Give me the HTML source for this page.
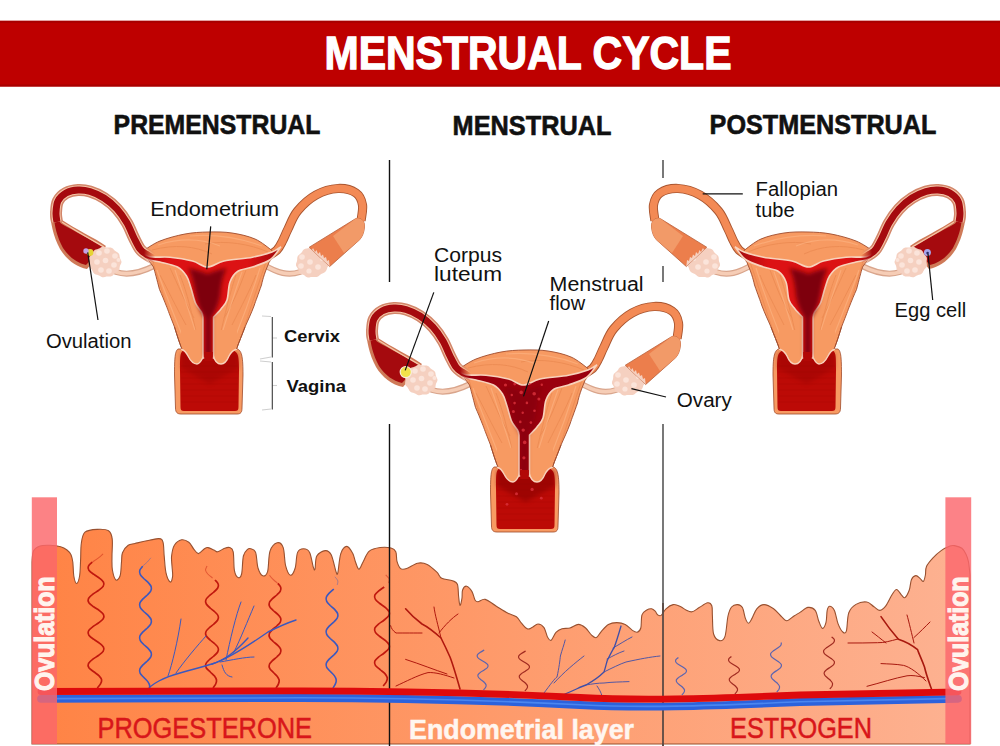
<!DOCTYPE html>
<html><head><meta charset="utf-8"><title>Menstrual Cycle</title>
<style>html,body{margin:0;padding:0;background:#fff;}svg{display:block;}</style>
</head><body>
<svg width="1000" height="746" viewBox="0 0 1000 746">
<defs>
  <linearGradient id="tg" x1="32" y1="0" x2="970" y2="0" gradientUnits="userSpaceOnUse">
    <stop offset="0" stop-color="#FF8344"/>
    <stop offset="1" stop-color="#FDB292"/>
  </linearGradient>
  <linearGradient id="cavgr" x1="140" y1="0" x2="285" y2="0" gradientUnits="userSpaceOnUse">
    <stop offset="0" stop-color="#A80A0E"/><stop offset="0.2" stop-color="#DC1214"/><stop offset="0.74" stop-color="#DC1214"/><stop offset="0.97" stop-color="#A00A0C"/>
  </linearGradient>
  <linearGradient id="tmg" x1="144" y1="0" x2="155" y2="0" gradientUnits="userSpaceOnUse">
    <stop offset="0" stop-color="#fff"/><stop offset="1" stop-color="#000"/>
  </linearGradient>
  <mask id="tubemask" maskUnits="userSpaceOnUse" x="0" y="0" width="400" height="450"><rect x="0" y="0" width="400" height="450" fill="url(#tmg)"/></mask>
  <clipPath id="bodyclip"><path d="M143.0,251.0 C145.8,249.3 153.0,243.8 160.0,241.0 C167.0,238.2 177.0,235.5 185.0,234.0 C193.0,232.5 200.2,232.2 208.0,232.0 C215.8,231.8 224.2,231.8 232.0,233.0 C239.8,234.2 248.3,236.1 255.0,239.0 C261.7,241.9 269.2,248.6 272.0,250.5 C274,255 272,258 269,262.5 C265,272 263,278 261.5,285 C258,295 256,300 254,306 C251,314 248,320 245,327 C242,335 239,342 236.5,349 C233,350 231,352 229,356 C227,361 224,364 221,364 C216,364 214,359 213,355 L204,355 C202,360 200,364 197,364 C193,364 190,360 188,356 C186,352 184,350 182,349 C179,342 177,335 174.5,327 C171,318 169,313 167,307.5 C164,300 162,295 159.5,289.5 C157,280 155,272 153.5,267 C150,262 145,256 143,251 Z"/></clipPath>
  <filter id="blur2" x="-20%" y="-20%" width="140%" height="140%"><feGaussianBlur stdDeviation="2.2"/></filter>
  
<g id="ut">
  <path d="M116,272 C128,276 140,273 154,266" fill="none" stroke="#D9A58C" stroke-width="6" stroke-linecap="round"/>
  <path d="M116,272 C128,276 140,273 154,266" fill="none" stroke="#F6CDB6" stroke-width="3.6" stroke-linecap="round"/>
  <path d="M300,272 C288,276 278,273 264,265" fill="none" stroke="#D9A58C" stroke-width="6" stroke-linecap="round"/>
  <path d="M300,272 C288,276 278,273 264,265" fill="none" stroke="#F6CDB6" stroke-width="3.6" stroke-linecap="round"/>
  <path d="M50,211 C50.5,222 53,236 60,249 C66,259 76,267 87,269 L93,262 L106,246 C95,238 75,229 62,220 Z" fill="#CF7A58"/>
  <path d="M53.5,214 C54.5,226 57,237 63,248 C69,257 77,263 86,265 L103,247 C92,240 74,231 61,223.5 Z" fill="#A50A0E"/>
  <path d="M62,222 C74,230 92,240 104,247" fill="none" stroke="#F7C6A8" stroke-width="1.2"/>
  <path d="M121.5,262.0 L121.2,263.3 L120.6,264.6 L120.0,265.8 L119.7,267.0 L119.5,268.4 L119.2,269.7 L118.5,270.8 L117.3,271.7 L116.1,272.4 L115.0,273.2 L114.1,274.1 L113.1,275.2 L112.0,276.0 L110.6,276.4 L109.1,276.4 L107.7,276.4 L106.4,276.6 L105.0,277.0 L103.6,277.3 L102.1,277.2 L100.8,276.6 L99.6,275.8 L98.4,275.2 L97.1,274.8 L95.7,274.4 L94.4,273.8 L93.4,272.8 L92.8,271.6 L92.2,270.4 L91.5,269.3 L90.5,268.3 L89.6,267.2 L89.1,266.0 L89.1,264.6 L89.3,263.3 L89.5,262.0 L89.3,260.7 L89.1,259.4 L89.1,258.0 L89.6,256.8 L90.5,255.7 L91.5,254.7 L92.2,253.6 L92.8,252.4 L93.4,251.2 L94.4,250.2 L95.7,249.6 L97.1,249.2 L98.4,248.8 L99.6,248.2 L100.8,247.4 L102.1,246.8 L103.6,246.7 L105.0,247.0 L106.4,247.4 L107.7,247.6 L109.1,247.6 L110.6,247.6 L112.0,248.0 L113.1,248.8 L114.1,249.9 L115.0,250.8 L116.1,251.6 L117.3,252.3 L118.5,253.2 L119.2,254.3 L119.5,255.6 L119.7,257.0 L120.0,258.2 L120.6,259.4 L121.2,260.7 Z" fill="#F5D0C0"/>
  <g fill="#FBE4DA">
    <circle cx="99" cy="253" r="2.8"/><circle cx="107" cy="251" r="2.8"/><circle cx="115" cy="256" r="2.8"/>
    <circle cx="97" cy="262" r="2.8"/><circle cx="105.5" cy="260.5" r="2.8"/><circle cx="114" cy="265" r="2.8"/>
    <circle cx="101" cy="270" r="2.8"/><circle cx="109" cy="271" r="2.8"/><circle cx="118.5" cy="260" r="2"/>
  </g>
  <path d="M268.0,256.0 C269.5,255.0 274.6,252.5 277.0,250.0 C279.4,247.5 280.7,244.5 282.5,241.0 C284.3,237.5 285.5,234.0 288.0,229.0 C290.5,224.0 292.8,216.7 297.5,211.0 C302.2,205.3 309.2,198.8 316.0,195.0 C322.8,191.2 331.3,188.8 338.0,188.5 C344.7,188.2 351.9,190.2 356.0,193.0 C360.1,195.8 361.7,200.3 362.5,205.0 C363.3,209.7 361.2,218.3 361.0,221.0" fill="none" stroke="#A85530" stroke-width="9.2"/>
  <path d="M268.0,256.0 C269.5,255.0 274.6,252.5 277.0,250.0 C279.4,247.5 280.7,244.5 282.5,241.0 C284.3,237.5 285.5,234.0 288.0,229.0 C290.5,224.0 292.8,216.7 297.5,211.0 C302.2,205.3 309.2,198.8 316.0,195.0 C322.8,191.2 331.3,188.8 338.0,188.5 C344.7,188.2 351.9,190.2 356.0,193.0 C360.1,195.8 361.7,200.3 362.5,205.0 C363.3,209.7 361.2,218.3 361.0,221.0" fill="none" stroke="#F38A55" stroke-width="7.4"/>
  <path d="M143.0,251.0 C145.8,249.3 153.0,243.8 160.0,241.0 C167.0,238.2 177.0,235.5 185.0,234.0 C193.0,232.5 200.2,232.2 208.0,232.0 C215.8,231.8 224.2,231.8 232.0,233.0 C239.8,234.2 248.3,236.1 255.0,239.0 C261.7,241.9 269.2,248.6 272.0,250.5 C274,255 272,258 269,262.5 C265,272 263,278 261.5,285 C258,295 256,300 254,306 C251,314 248,320 245,327 C242,335 239,342 236.5,349 C233,350 231,352 229,356 C227,361 224,364 221,364 C216,364 214,359 213,355 L204,355 C202,360 200,364 197,364 C193,364 190,360 188,356 C186,352 184,350 182,349 C179,342 177,335 174.5,327 C171,318 169,313 167,307.5 C164,300 162,295 159.5,289.5 C157,280 155,272 153.5,267 C150,262 145,256 143,251 Z" fill="#F79A62" stroke="#9E4A2A" stroke-width="0.9"/>
  <g clip-path="url(#bodyclip)" fill="none">
  <g stroke="#E27E46" stroke-width="1" opacity="0.45">
    <path d="M152,250 C175,244 195,246 212,254"/><path d="M205,244 C225,240 250,244 268,252"/>
    <path d="M160,275 C168,290 175,305 186,325"/><path d="M170,268 C178,285 184,300 194,318"/>
    <path d="M153,262 C160,285 168,310 178,340"/><path d="M180,275 C186,290 190,305 198,340"/>
    <path d="M256,275 C250,290 242,305 232,325"/><path d="M246,270 C240,286 234,302 224,318"/>
    <path d="M266,262 C258,285 250,310 240,340"/><path d="M236,275 C231,290 227,305 219,340"/>
  </g>
  <g stroke="#FFBE90" stroke-width="1.2" opacity="0.45">
    <path d="M158,245 C180,238 200,238 220,246"/><path d="M190,236 C215,234 240,238 262,246"/>
    <path d="M157,270 C164,290 172,310 182,335"/><path d="M175,270 C181,288 187,305 195,330"/>
    <path d="M260,268 C253,290 246,310 236,335"/><path d="M242,272 C236,288 231,305 223,330"/>
  </g>
  </g>
  <path d="M178,349 C175,351 174.5,358 174.5,375 L175.5,408 C175.5,412 177,414 181,414 L237,414 C241,414 242,412 242,408 L243,375 C243,358 242,351 237.5,349 Z" fill="#F79A62" stroke="#9E4A2A" stroke-width="0.8"/>
  <path d="M182.5,351 C180,353 180,358 180,370 L180.5,407 C180.5,410 181.5,411 184,411 L235,411 C237.5,411 238.5,410 238.5,407 L239,370 C239,358 238.5,353 234.5,351 Z" fill="#BC0A06"/>
  <g stroke="#A80806" stroke-width="0.8" opacity="0.5">
    <line x1="181" y1="366" x2="238" y2="366"/><line x1="181" y1="372" x2="238" y2="372"/><line x1="181" y1="378" x2="238" y2="378"/><line x1="181" y1="384" x2="238" y2="384"/>
    <line x1="181" y1="390" x2="238" y2="390"/><line x1="181" y1="396" x2="238" y2="396"/><line x1="181" y1="402" x2="238" y2="402"/>
  </g>
  <path d="M181,352 L239,352 L239,368 L209.5,384 L181,368 Z" fill="#860006" style="opacity:var(--vk)" filter="url(#blur2)"/>
  <path d="M181,349 C184,350 186,352 188,356 C190,360 193,364 197,364 C200,364 202,360 204,355 L213,355 C214,359 216,364 221,364 C224,364 227,361 229,356 C231,352 233,350 237,349 L237,330 L181,330 Z" fill="#F79A62"/>
  <path d="M181,349 C184,350 186,352 188,356 C190,360 193,364 197,364 C200,364 202,360 204,355 L213,355 C214,359 216,364 221,364 C224,364 227,361 229,356 C231,352 233,350 237,349" fill="none" stroke="#F8D2BC" stroke-width="1.4"/>
  <path d="M174.5,327 C177,335 179,342 182,349 M245,327 C242,335 239,342 236.5,349" fill="none" stroke="#9E4A2A" stroke-width="0.9"/>
  <path d="M141.0,251.5 C142.5,252.4 145.2,255.9 150.0,256.8 C154.8,257.8 162.9,256.5 170.0,257.2 C177.1,257.9 186.2,259.4 192.5,261.0 C198.8,262.6 202.2,267.0 207.5,267.0 C212.8,267.0 216.5,262.6 224.0,261.0 C231.5,259.4 244.5,258.7 252.5,257.2 C260.5,255.7 267.2,253.8 272.0,252.0 C276.8,250.2 279.5,247.6 281.0,246.7 C279.2,248.8 275.2,256.1 270.5,259.5 C265.8,262.9 258.0,265.0 252.5,267.0 C247.0,269.0 241.2,269.0 237.5,271.5 C233.8,274.0 231.8,277.2 230.0,282.0 C228.2,286.8 228.5,295.5 227.0,300.0 C225.5,304.5 223.2,306.2 221.0,309.0 C218.8,311.8 214.8,315.7 213.5,317.0 L213.5,358 L203,358 L203,317 C202.8,316.2 202.8,314.3 201.5,312.0 C200.2,309.7 197.2,307.0 195.5,303.0 C193.8,299.0 192.5,292.5 191.0,288.0 C189.5,283.5 188.8,279.5 186.5,276.0 C184.2,272.5 181.9,269.3 177.5,267.0 C173.1,264.7 164.6,263.2 160.0,262.0 C155.4,260.8 153.2,261.0 150.0,260.0 C146.8,259.0 142.5,256.7 141.0,256.0 Z" style="fill:var(--cav)" stroke="#F8D2BC" stroke-width="1.6"/>
  <path d="M188,268 C197,270 203,272 207.5,274 C212,272 218,270 227,268 C222,276 221,286 220,296 C218,306 215,312 211.5,318 L211.5,356 L205,356 L205,318 C201,312 198,306 196,296 C194,286 193,276 188,268 Z" fill="#7E0008" style="opacity:var(--dk)" filter="url(#blur2)"/>
  <g fill="#D8303A" style="opacity:var(--dop)"><circle cx="189.5" cy="267.0" r="1.6"/><circle cx="198.7" cy="266.1" r="1.4"/><circle cx="213.7" cy="266.0" r="1.1"/><circle cx="225.8" cy="266.7" r="1.2"/><circle cx="195.8" cy="277.0" r="1.2"/><circle cx="205.2" cy="274.4" r="1.8"/><circle cx="218.2" cy="275.7" r="1.8"/><circle cx="198.6" cy="285.1" r="1.3"/><circle cx="210.9" cy="284.9" r="1.3"/><circle cx="222.9" cy="281.0" r="1.5"/><circle cx="197.4" cy="293.6" r="1.5"/><circle cx="206.7" cy="294.7" r="1.2"/><circle cx="218.5" cy="292.8" r="1.3"/><circle cx="204.3" cy="303.9" r="1.3"/><circle cx="214.9" cy="304.6" r="1.3"/><circle cx="207.2" cy="312.1" r="1.7"/><circle cx="208.7" cy="324.4" r="1.8"/><circle cx="207.9" cy="339.8" r="1.6"/><circle cx="205.0" cy="352.0" r="1.1"/><circle cx="200.5" cy="375.8" r="1.5"/><circle cx="216.1" cy="371.4" r="1.6"/><circle cx="225.3" cy="380.2" r="1.4"/><circle cx="191.0" cy="386.3" r="1.4"/></g>
  <rect x="204.2" y="352" width="8.6" height="9" fill="#B20806"/>
  <g mask="url(#tubemask)">
  <path d="M156.0,260.0 C154.3,259.0 148.7,255.8 146.0,254.0 C143.3,252.2 142.0,251.7 140.0,249.0 C138.0,246.3 136.2,242.3 134.0,238.0 C131.8,233.7 129.8,227.8 127.0,223.0 C124.2,218.2 120.8,213.2 117.0,209.0 C113.2,204.8 108.5,200.9 104.0,198.0 C99.5,195.1 94.3,192.8 90.0,191.5 C85.7,190.2 82.0,189.8 78.0,190.0 C74.0,190.2 69.3,191.2 66.0,193.0 C62.7,194.8 59.7,197.7 58.0,201.0 C56.3,204.3 56.2,209.5 56.0,213.0 C55.8,216.5 56.8,220.5 57.0,222.0" fill="none" stroke="#D2866A" stroke-width="12"/>
  <path d="M156.0,260.0 C154.3,259.0 148.7,255.8 146.0,254.0 C143.3,252.2 142.0,251.7 140.0,249.0 C138.0,246.3 136.2,242.3 134.0,238.0 C131.8,233.7 129.8,227.8 127.0,223.0 C124.2,218.2 120.8,213.2 117.0,209.0 C113.2,204.8 108.5,200.9 104.0,198.0 C99.5,195.1 94.3,192.8 90.0,191.5 C85.7,190.2 82.0,189.8 78.0,190.0 C74.0,190.2 69.3,191.2 66.0,193.0 C62.7,194.8 59.7,197.7 58.0,201.0 C56.3,204.3 56.2,209.5 56.0,213.0 C55.8,216.5 56.8,220.5 57.0,222.0" fill="none" stroke="#F7C6A8" stroke-width="9"/>
  <path d="M156.0,260.0 C154.3,259.0 148.7,255.8 146.0,254.0 C143.3,252.2 142.0,251.7 140.0,249.0 C138.0,246.3 136.2,242.3 134.0,238.0 C131.8,233.7 129.8,227.8 127.0,223.0 C124.2,218.2 120.8,213.2 117.0,209.0 C113.2,204.8 108.5,200.9 104.0,198.0 C99.5,195.1 94.3,192.8 90.0,191.5 C85.7,190.2 82.0,189.8 78.0,190.0 C74.0,190.2 69.3,191.2 66.0,193.0 C62.7,194.8 59.7,197.7 58.0,201.0 C56.3,204.3 56.2,209.5 56.0,213.0 C55.8,216.5 56.8,220.5 57.0,222.0" fill="none" stroke="#A50A0E" stroke-width="7"/>
  </g>
  <path d="M328.9,254.6 L329.2,255.9 L329.1,257.3 L329.0,258.7 L329.3,259.9 L329.7,261.2 L329.9,262.6 L329.7,264.0 L329.0,265.3 L328.1,266.4 L327.3,267.6 L326.9,268.9 L326.4,270.3 L325.6,271.6 L324.4,272.5 L323.0,273.2 L321.7,273.8 L320.5,274.6 L319.3,275.6 L318.1,276.5 L316.7,277.0 L315.2,277.1 L313.7,276.9 L312.3,276.9 L310.8,277.1 L309.3,277.5 L307.8,277.5 L306.5,277.0 L305.3,276.2 L304.3,275.3 L303.1,274.7 L301.7,274.2 L300.4,273.7 L299.4,272.8 L298.8,271.5 L298.5,270.2 L298.1,269.0 L297.4,267.9 L296.6,266.8 L296.0,265.5 L296.0,264.1 L296.4,262.8 L296.9,261.4 L297.2,260.1 L297.2,258.8 L297.3,257.4 L297.8,256.0 L298.8,254.9 L300.0,253.9 L301.1,253.0 L302.0,251.9 L302.8,250.6 L303.8,249.5 L305.2,248.8 L306.7,248.4 L308.1,248.2 L309.5,247.8 L310.9,247.1 L312.3,246.5 L313.8,246.2 L315.2,246.4 L316.6,246.9 L317.9,247.4 L319.3,247.6 L320.8,247.7 L322.2,247.9 L323.4,248.6 L324.3,249.7 L325.0,250.9 L325.9,251.8 L326.9,252.7 L328.1,253.5 Z" fill="#F5D0C0"/>
  <g fill="#FBE4DA">
    <circle cx="302" cy="257" r="2.8"/><circle cx="310" cy="262" r="2.8"/><circle cx="318" cy="267" r="2.8"/>
    <circle cx="301" cy="266" r="2.8"/><circle cx="309" cy="271" r="2.6"/><circle cx="322" cy="259" r="2"/>
  </g>
  <path d="M309.3,247.2 L355.4,218.8 C361,217 365,221 364.5,227 C364,233 362,237 359.7,239.7 L329.7,266.5 Z" fill="#EC7E4C" stroke="#B8603A" stroke-width="0.8"/>
  <path d="M333,236 L355.4,218.8 C361,217 365,221 364.5,227 C364,233 362,237 359.7,239.7 L344,253 Z" fill="#F29A68"/>
  <path d="M309.3,247.2 L312,250 L313,248 L315,252 L316.5,250 L318,254 L320,252 L321,256 L323,254.5 L324,258 L326,257 L327,261 L329,260 L329.7,266.5" fill="#F5D0C0"/>
</g>
</defs>
<rect x="0" y="0" width="1000" height="746" fill="#FFFFFF"/>
<rect x="0" y="20.8" width="1000" height="65.7" fill="#BE0000"/>
<rect x="0" y="20.8" width="1000" height="2" fill="#A80000"/>
<rect x="0" y="84.5" width="1000" height="2" fill="#A80000"/>
<text x="324.5" y="68.6" font-family="Liberation Sans" font-weight="bold" font-size="46.5" fill="#FFFFFF" stroke="#FFFFFF" stroke-width="1.3" textLength="407" lengthAdjust="spacingAndGlyphs">MENSTRUAL CYCLE</text>
<g font-family="Liberation Sans" font-weight="bold" font-size="27" fill="#111" stroke="#111" stroke-width="0.6">
  <text x="113.6" y="133.9" textLength="206.8" lengthAdjust="spacingAndGlyphs">PREMENSTRUAL</text>
  <text x="452.6" y="134.9" textLength="158.8" lengthAdjust="spacingAndGlyphs">MENSTRUAL</text>
  <text x="709.6" y="133.9" textLength="226.8" lengthAdjust="spacingAndGlyphs">POSTMENSTRUAL</text>
</g>
<line x1="389.5" y1="160" x2="389.5" y2="282" stroke="#111" stroke-width="1.4"/>
<g stroke="#6A6A6A" stroke-width="1.8">
  <line x1="663" y1="160" x2="663" y2="178"/>
  <line x1="663" y1="266" x2="663" y2="282"/>
  <line x1="663" y1="424" x2="663" y2="746"/>
</g>
<use href="#ut" style="--cav:url(#cavgr);--dop:0;--dk:1;--vk:0.3"/>
<circle cx="90" cy="252.5" r="3.4" fill="#E6D434"/>
<circle cx="86" cy="251" r="2.7" fill="#C4A2E6"/>
<use href="#ut" transform="translate(316,118)" style="--cav:#9A000E;--dop:0.85;--dk:0.5;--vk:0.55"/>
<circle cx="405.8" cy="372.1" r="5.6" fill="#F2E24A" stroke="#F8EEDC" stroke-width="1.2"/>
<use href="#ut" transform="translate(1016,0) scale(-1,1)" style="--cav:url(#cavgr);--dop:0;--dk:1;--vk:0.3"/>
<circle cx="927.4" cy="252.5" r="3.5" fill="#A6A6EC"/>
<circle cx="927.6" cy="253" r="1.3" fill="#2A2A66"/>
<!-- tissue -->
<path d="M32.0,562.0 C32.2,560.2 32.2,553.7 33.5,551.0 C34.8,548.3 37.2,547.0 40.0,546.0 C42.8,545.0 46.6,545.2 50.0,545.3 C53.4,545.4 57.8,545.9 60.6,546.7 C63.4,547.5 65.3,548.7 67.0,550.0 C68.7,551.3 70.0,552.7 71.0,554.7 C72.0,556.7 72.3,558.5 72.8,562.0 C73.3,565.5 73.2,572.4 73.8,576.0 C74.4,579.6 75.6,583.5 76.6,583.5 C77.6,583.5 78.9,579.9 79.6,576.0 C80.3,572.1 80.3,565.4 80.6,560.0 C80.9,554.6 80.6,548.1 81.3,543.5 C82.0,538.9 82.3,534.6 85.0,532.2 C87.7,529.9 93.3,529.6 97.2,529.4 C101.1,529.2 106.0,529.2 108.5,530.8 C111.0,532.4 111.6,534.6 112.2,538.8 C112.8,543.0 112.0,550.8 112.0,556.0 C112.0,561.2 111.7,566.0 112.4,570.0 C113.1,574.0 114.7,579.1 116.0,580.0 C117.3,580.9 119.3,578.5 120.2,575.5 C121.1,572.5 121.1,565.8 121.5,562.0 C121.9,558.2 121.4,555.6 122.5,552.8 C123.6,550.0 126.1,546.8 128.2,545.3 C130.3,543.8 132.1,544.2 135.0,543.5 C137.9,542.8 141.6,541.8 145.6,541.0 C149.6,540.2 155.9,538.4 158.8,538.6 C161.7,538.8 162.1,539.3 163.0,542.2 C163.9,545.1 163.7,550.9 164.2,556.0 C164.7,561.1 165.0,568.5 166.0,572.8 C167.0,577.1 169.2,581.4 170.3,582.0 C171.4,582.6 172.3,579.1 172.6,576.4 C172.9,573.7 172.2,569.4 172.0,566.0 C171.8,562.6 171.2,559.5 171.6,556.0 C172.0,552.5 172.7,547.9 174.4,545.2 C176.1,542.5 179.2,540.3 181.6,539.8 C184.0,539.3 186.8,540.7 188.8,542.2 C190.8,543.7 192.0,546.9 193.6,548.8 C195.2,550.7 196.6,553.6 198.4,553.6 C200.2,553.6 202.8,549.8 204.4,548.8 C206.0,547.8 206.4,547.4 208.0,547.6 C209.6,547.8 212.4,549.3 214.0,550.0 C215.6,550.7 215.8,552.1 217.6,551.8 C219.4,551.5 222.8,548.9 224.8,548.2 C226.8,547.5 228.2,547.0 229.6,547.6 C231.0,548.2 232.4,548.0 233.2,551.8 C234.0,555.6 233.6,566.1 234.4,570.4 C235.2,574.7 236.8,577.0 238.0,577.6 C239.2,578.2 240.7,577.6 241.6,574.0 C242.5,570.4 242.4,560.1 243.4,556.0 C244.4,551.9 246.4,550.6 247.6,549.4 C248.8,548.2 249.5,548.3 250.8,548.8 C252.1,549.3 254.4,549.2 255.6,552.4 C256.8,555.6 256.8,564.1 258.0,568.0 C259.2,571.9 261.2,575.2 262.8,575.8 C264.4,576.4 266.4,575.7 267.6,571.6 C268.8,567.5 268.4,556.0 270.0,551.2 C271.6,546.4 275.0,543.4 277.2,542.8 C279.4,542.2 281.8,543.8 283.2,547.6 C284.6,551.4 284.4,561.0 285.6,565.6 C286.8,570.2 288.8,574.8 290.4,575.2 C292.0,575.6 294.0,571.8 295.2,568.0 C296.4,564.2 296.2,555.6 297.6,552.4 C299.0,549.2 301.6,548.8 303.6,548.8 C305.6,548.8 308.0,549.4 309.6,552.4 C311.2,555.4 312.3,564.0 313.2,566.8 C314.1,569.6 314.4,571.0 315.0,569.2 C315.6,567.4 315.1,559.1 316.8,556.0 C318.5,552.9 322.8,550.8 325.2,550.6 C327.6,550.4 329.4,551.3 331.2,554.8 C333.0,558.3 334.9,568.6 336.0,571.6 C337.1,574.6 337.0,575.8 337.8,572.8 C338.6,569.8 339.3,558.0 340.8,553.6 C342.3,549.2 344.8,546.4 346.8,546.4 C348.8,546.4 351.4,551.0 352.8,553.6 C354.2,556.2 354.5,559.4 355.5,562.0 C356.5,564.6 357.7,569.3 359.0,569.2 C360.3,569.1 361.6,564.4 363.3,561.4 C365.0,558.4 366.5,553.4 369.3,551.1 C372.1,548.8 376.6,548.0 380.2,547.5 C383.8,547.0 388.4,547.3 391.0,548.0 C393.6,548.7 394.8,549.5 395.8,551.7 C396.8,553.9 396.2,558.6 397.0,561.4 C397.8,564.2 399.1,567.4 400.7,568.6 C402.3,569.8 403.9,569.5 406.7,568.6 C409.5,567.7 414.2,563.9 417.6,563.2 C421.0,562.5 424.0,562.9 427.2,564.4 C430.4,565.9 434.5,569.9 436.9,572.2 C439.3,574.5 439.1,576.9 441.7,578.3 C444.3,579.7 449.9,579.7 452.5,580.7 C455.1,581.7 456.4,581.7 457.4,584.3 C458.4,586.9 458.2,592.8 458.6,596.3 C459.0,599.8 459.4,605.1 460.0,605.4 C460.6,605.7 461.6,600.6 462.0,598.0 C462.4,595.4 461.8,592.0 462.6,590.0 C463.4,588.0 465.0,585.9 466.6,586.2 C468.2,586.5 470.6,589.3 472.0,591.6 C473.4,593.9 474.0,598.3 475.0,600.0 C476.0,601.7 476.3,601.9 478.0,601.8 C479.7,601.7 482.2,598.7 485.2,599.4 C488.2,600.1 492.2,603.7 496.0,606.0 C499.8,608.3 504.6,611.4 508.0,613.2 C511.4,615.0 514.2,615.2 516.4,616.8 C518.6,618.4 519.4,620.8 521.2,622.8 C523.0,624.8 525.4,628.0 527.2,628.8 C529.0,629.6 530.2,628.4 532.0,627.6 C533.8,626.8 536.0,624.0 538.0,624.0 C540.0,624.0 542.4,625.4 544.0,627.6 C545.6,629.8 546.4,635.1 547.6,637.2 C548.8,639.3 549.8,641.0 551.2,640.2 C552.6,639.4 554.2,634.3 556.0,632.4 C557.8,630.5 559.7,629.5 562.0,628.8 C564.3,628.1 567.3,628.7 570.0,628.0 C572.7,627.3 575.8,624.4 578.4,624.4 C581.0,624.4 583.4,626.2 585.6,628.0 C587.8,629.8 589.8,633.6 591.6,635.2 C593.4,636.8 594.8,638.2 596.4,637.6 C598.0,637.0 599.2,633.8 601.2,631.6 C603.2,629.4 605.8,625.9 608.4,624.4 C611.0,622.9 614.0,622.6 616.8,622.6 C619.6,622.6 622.6,623.1 625.2,624.4 C627.8,625.7 630.4,629.1 632.4,630.4 C634.4,631.7 635.8,632.6 637.2,632.2 C638.6,631.8 640.0,630.9 640.8,628.0 C641.6,625.1 641.0,617.8 642.0,614.8 C643.0,611.8 645.2,611.0 646.8,610.0 C648.4,609.0 650.2,608.6 651.6,608.8 C653.0,609.0 654.2,610.2 655.2,611.2 C656.2,612.2 656.6,614.1 657.6,614.8 C658.6,615.5 659.8,616.4 661.2,615.4 C662.6,614.4 664.0,610.6 666.0,608.8 C668.0,607.0 670.8,605.0 673.2,604.6 C675.6,604.2 678.3,605.5 680.4,606.4 C682.5,607.3 684.1,609.1 686.0,610.0 C687.9,610.9 689.8,612.2 692.0,611.8 C694.2,611.4 696.6,609.1 699.2,607.6 C701.8,606.1 705.5,603.1 707.6,602.8 C709.7,602.5 711.0,603.6 711.8,605.8 C712.6,608.0 712.1,611.3 712.4,616.0 C712.7,620.7 712.4,629.9 713.6,634.0 C714.8,638.1 717.7,640.2 719.6,640.6 C721.5,641.0 723.6,640.5 725.0,636.4 C726.4,632.3 726.9,620.9 728.0,616.0 C729.1,611.1 730.0,608.9 731.6,607.0 C733.2,605.1 735.8,604.5 737.6,604.6 C739.4,604.7 741.1,605.3 742.4,607.6 C743.7,609.9 744.4,615.8 745.4,618.4 C746.4,621.0 747.3,623.2 748.4,623.2 C749.5,623.2 750.6,620.8 752.0,618.4 C753.4,616.0 754.8,611.1 756.8,608.8 C758.8,606.5 761.2,604.6 764.0,604.6 C766.8,604.6 770.6,606.7 773.6,608.8 C776.6,610.9 779.8,615.2 782.0,617.2 C784.2,619.2 784.8,621.0 786.8,620.8 C788.8,620.6 791.8,617.4 794.0,616.0 C796.2,614.6 797.7,613.8 800.0,612.4 C802.3,611.0 805.5,607.7 808.0,607.4 C810.5,607.1 813.4,608.1 815.2,610.4 C817.0,612.7 817.6,618.2 818.8,621.2 C820.0,624.2 821.2,628.2 822.4,628.4 C823.6,628.6 825.2,625.4 826.0,622.4 C826.8,619.4 826.6,613.1 827.2,610.4 C827.8,607.7 828.4,606.2 829.6,606.2 C830.8,606.2 833.0,607.5 834.4,610.4 C835.8,613.3 836.6,620.0 838.0,623.6 C839.4,627.2 841.4,630.8 842.8,632.0 C844.2,633.2 845.4,634.0 846.4,630.8 C847.4,627.6 847.2,617.2 848.8,612.8 C850.4,608.4 853.0,606.2 856.0,604.4 C859.0,602.6 863.8,601.6 866.8,602.0 C869.8,602.4 871.8,605.4 874.0,606.8 C876.2,608.2 878.0,610.6 880.0,610.4 C882.0,610.2 884.0,608.2 886.0,605.6 C888.0,603.0 890.2,597.5 892.0,594.8 C893.8,592.1 895.0,589.4 896.6,589.5 C898.2,589.6 900.4,594.0 901.8,595.4 C903.2,596.8 903.8,598.5 905.0,597.6 C906.2,596.7 908.2,593.0 909.3,590.0 C910.4,587.0 910.4,581.8 911.5,579.4 C912.6,577.0 914.4,575.8 915.8,575.6 C917.2,575.4 918.8,577.3 920.0,578.3 C921.2,579.3 922.4,582.0 923.3,581.5 C924.2,581.0 924.9,577.5 925.4,575.0 C925.9,572.5 925.2,569.4 926.5,566.5 C927.8,563.6 930.5,560.6 933.0,557.9 C935.5,555.2 938.7,552.4 941.5,550.4 C944.3,548.4 947.9,546.8 950.0,546.0 C952.1,545.2 952.4,545.2 954.4,545.6 C956.4,546.0 959.9,546.7 961.9,548.2 C963.9,549.7 965.1,552.4 966.2,554.7 C967.3,557.0 967.9,558.6 968.5,562.0 C969.1,565.4 969.8,572.8 970.0,575.0 L970,744 L32,744 Z" fill="url(#tg)" stroke="#98502F" stroke-width="1.1"/>
<path d="M97.3,688.0 C97.8,687.3 99.8,685.3 100.5,683.9 C101.3,682.6 101.8,681.2 101.6,679.9 C101.4,678.5 100.4,677.2 99.1,675.8 C97.8,674.5 95.5,673.1 93.8,671.8 C92.1,670.4 89.8,669.0 88.9,667.7 C88.0,666.3 87.8,665.0 88.4,663.6 C88.9,662.3 90.6,660.9 92.3,659.6 C93.9,658.2 96.6,656.9 98.4,655.5 C100.2,654.1 102.2,652.8 103.1,651.4 C104.0,650.1 104.2,648.7 103.6,647.4 C103.1,646.0 101.4,644.7 99.7,643.3 C98.1,642.0 95.4,640.6 93.6,639.2 C91.8,637.9 89.8,636.5 88.9,635.2 C88.0,633.8 87.8,632.5 88.4,631.1 C88.9,629.8 90.6,628.4 92.3,627.1 C93.9,625.7 96.6,624.4 98.4,623.0 C100.2,621.6 102.2,620.3 103.1,618.9 C104.0,617.6 104.2,616.2 103.6,614.9 C103.1,613.5 101.4,612.2 99.7,610.8 C98.1,609.5 95.4,608.1 93.6,606.8 C91.8,605.4 89.8,604.0 88.9,602.7 C88.0,601.3 87.8,600.0 88.4,598.6 C88.9,597.3 90.6,595.9 92.3,594.6 C93.9,593.2 96.6,591.9 98.4,590.5 C100.2,589.1 102.2,587.8 103.1,586.4 C104.0,585.1 104.2,583.7 103.6,582.4 C103.1,581.0 101.4,579.7 99.7,578.3 C98.1,577.0 95.4,575.6 93.6,574.2 C91.8,572.9 89.8,571.5 88.9,570.2 C88.0,568.8 87.8,567.5 88.4,566.1 C88.9,564.8 91.6,562.7 92.3,562.1" fill="none" stroke="#C0180E" stroke-width="1.7"/><path d="M92.4,562.0 C93.4,561.3 96.7,559.3 98.5,557.9 C100.3,556.6 102.3,554.6 103.1,553.9" fill="none" stroke="#C0180E" stroke-width="1.02" opacity="0.45"/>
<path d="M146.5,694.0 C146.9,693.3 148.4,691.2 148.9,689.9 C149.5,688.5 149.9,687.1 149.7,685.8 C149.5,684.4 148.8,683.0 147.8,681.6 C146.8,680.2 145.1,678.9 143.9,677.5 C142.6,676.1 140.9,674.8 140.2,673.4 C139.5,672.0 139.4,670.6 139.8,669.2 C140.2,667.9 141.4,666.5 142.7,665.1 C144.0,663.8 145.9,662.4 147.3,661.0 C148.6,659.6 150.1,658.2 150.8,656.9 C151.5,655.5 151.6,654.1 151.2,652.8 C150.8,651.4 149.6,650.0 148.3,648.6 C147.0,647.2 145.1,645.9 143.7,644.5 C142.4,643.1 140.9,641.8 140.2,640.4 C139.5,639.0 139.4,637.6 139.8,636.2 C140.2,634.9 141.4,633.5 142.7,632.1 C144.0,630.8 145.9,629.4 147.3,628.0 C148.6,626.6 150.1,625.2 150.8,623.9 C151.5,622.5 151.6,621.1 151.2,619.8 C150.8,618.4 149.6,617.0 148.3,615.6 C147.0,614.2 145.1,612.9 143.7,611.5 C142.4,610.1 140.9,608.8 140.2,607.4 C139.5,606.0 139.4,604.6 139.8,603.2 C140.2,601.9 141.4,600.5 142.7,599.1 C144.0,597.8 145.9,596.4 147.3,595.0 C148.6,593.6 150.1,592.2 150.8,590.9 C151.5,589.5 151.6,588.1 151.2,586.8 C150.8,585.4 149.6,584.0 148.3,582.6 C147.0,581.2 145.1,579.9 143.7,578.5 C142.4,577.1 140.9,575.8 140.2,574.4 C139.5,573.0 139.4,571.6 139.8,570.2 C140.2,568.9 142.2,566.8 142.7,566.1" fill="none" stroke="#3A58C0" stroke-width="1.6"/><path d="M142.8,566.0 C143.6,565.3 146.1,563.2 147.4,561.9 C148.7,560.5 150.3,558.4 150.9,557.8" fill="none" stroke="#3A58C0" stroke-width="0.96" opacity="0.45"/>
<path d="M213.1,688.0 C213.5,687.3 215.1,685.3 215.7,684.0 C216.3,682.7 216.7,681.3 216.5,680.0 C216.3,678.7 215.5,677.3 214.5,676.0 C213.4,674.7 211.6,673.3 210.3,672.0 C208.9,670.7 207.0,669.3 206.3,668.0 C205.5,666.7 205.3,665.3 205.8,664.0 C206.2,662.7 207.6,661.3 209.0,660.0 C210.3,658.7 212.5,657.3 213.9,656.0 C215.4,654.7 217.0,653.3 217.7,652.0 C218.5,650.7 218.7,649.3 218.2,648.0 C217.8,646.7 216.4,645.3 215.0,644.0 C213.7,642.7 211.5,641.3 210.1,640.0 C208.6,638.7 207.0,637.3 206.3,636.0 C205.5,634.7 205.3,633.3 205.8,632.0 C206.2,630.7 207.6,629.3 209.0,628.0 C210.3,626.7 212.5,625.3 213.9,624.0 C215.4,622.7 217.0,621.3 217.7,620.0 C218.5,618.7 218.7,617.3 218.2,616.0 C217.8,614.7 216.4,613.3 215.0,612.0 C213.7,610.7 211.5,609.3 210.1,608.0 C208.6,606.7 207.0,605.3 206.3,604.0 C205.5,602.7 205.3,601.3 205.8,600.0 C206.2,598.7 207.6,597.3 209.0,596.0 C210.3,594.7 212.5,593.3 213.9,592.0 C215.4,590.7 217.0,589.3 217.7,588.0 C218.5,586.7 218.7,585.3 218.2,584.0 C217.8,582.7 215.6,580.7 215.0,580.0" fill="none" stroke="#C0180E" stroke-width="1.7"/><path d="M212.6,578.0 C211.8,577.3 209.0,575.3 207.8,574.0 C206.7,572.7 205.7,571.3 205.5,570.0 C205.4,568.7 206.8,566.7 207.0,566.0" fill="none" stroke="#C0180E" stroke-width="1.02" opacity="0.45"/>
<path d="M276.0,688.0 C276.4,687.4 277.9,685.4 278.4,684.1 C278.9,682.8 279.3,681.5 279.2,680.2 C279.0,679.0 278.2,677.7 277.3,676.4 C276.3,675.1 274.7,673.8 273.4,672.5 C272.2,671.2 270.5,669.9 269.8,668.6 C269.1,667.3 268.9,666.0 269.3,664.8 C269.7,663.5 270.9,662.2 272.2,660.9 C273.5,659.6 275.4,658.3 276.8,657.0 C278.1,655.7 279.6,654.4 280.3,653.1 C281.0,651.8 281.1,650.5 280.7,649.2 C280.3,648.0 279.1,646.7 277.8,645.4 C276.5,644.1 274.6,642.8 273.2,641.5 C271.9,640.2 270.4,638.9 269.7,637.6 C269.0,636.3 268.9,635.0 269.3,633.8 C269.7,632.5 270.9,631.2 272.2,629.9 C273.5,628.6 275.4,627.3 276.8,626.0 C278.1,624.7 279.6,623.4 280.3,622.1 C281.0,620.8 281.1,619.5 280.7,618.2 C280.3,617.0 279.1,615.7 277.8,614.4 C276.5,613.1 274.6,611.8 273.2,610.5 C271.9,609.2 270.4,607.9 269.7,606.6 C269.0,605.3 268.9,604.0 269.3,602.8 C269.7,601.5 270.9,600.2 272.2,598.9 C273.5,597.6 275.4,596.3 276.8,595.0 C278.1,593.7 279.6,592.4 280.3,591.1 C281.0,589.8 281.1,588.5 280.7,587.2 C280.3,586.0 278.3,584.0 277.8,583.4" fill="none" stroke="#C0180E" stroke-width="1.7"/><path d="M277.4,583.0 C276.6,582.4 274.1,580.4 272.8,579.1 C271.5,577.8 270.0,575.9 269.5,575.2" fill="none" stroke="#C0180E" stroke-width="1.02" opacity="0.45"/>
<path d="M333.0,688.0 C333.4,687.3 334.9,685.2 335.4,683.9 C336.0,682.5 336.4,681.1 336.2,679.8 C336.0,678.4 335.3,677.0 334.3,675.6 C333.3,674.2 331.6,672.9 330.4,671.5 C329.1,670.1 327.4,668.8 326.7,667.4 C326.0,666.0 325.9,664.6 326.3,663.2 C326.7,661.9 327.9,660.5 329.2,659.1 C330.5,657.8 332.4,656.4 333.8,655.0 C335.1,653.6 336.6,652.2 337.3,650.9 C338.0,649.5 338.1,648.1 337.7,646.8 C337.3,645.4 336.1,644.0 334.8,642.6 C333.5,641.2 331.6,639.9 330.2,638.5 C328.9,637.1 327.4,635.8 326.7,634.4 C326.0,633.0 325.9,631.6 326.3,630.2 C326.7,628.9 327.9,627.5 329.2,626.1 C330.5,624.8 332.4,623.4 333.8,622.0 C335.1,620.6 336.6,619.2 337.3,617.9 C338.0,616.5 338.1,615.1 337.7,613.8 C337.3,612.4 336.1,611.0 334.8,609.6 C333.5,608.2 331.6,606.9 330.2,605.5 C328.9,604.1 327.4,602.8 326.7,601.4 C326.0,600.0 325.9,598.6 326.3,597.2 C326.7,595.9 327.9,594.5 329.2,593.1 C330.5,591.8 333.0,589.7 333.8,589.0" fill="none" stroke="#3A58C0" stroke-width="1.6"/><path d="M337.2,585.0 C337.3,584.3 338.2,582.2 337.8,580.9 C337.4,579.5 335.4,577.4 334.9,576.8" fill="none" stroke="#3A58C0" stroke-width="0.96" opacity="0.45"/>
<path d="M383.2,686.0 C383.7,685.3 385.6,683.2 386.3,681.9 C386.9,680.5 387.5,679.1 387.3,677.8 C387.0,676.4 386.1,675.0 384.9,673.6 C383.7,672.2 381.5,670.9 380.0,669.5 C378.4,668.1 376.2,666.8 375.4,665.4 C374.5,664.0 374.3,662.6 374.8,661.2 C375.4,659.9 376.9,658.5 378.5,657.1 C380.1,655.8 382.5,654.4 384.2,653.0 C385.9,651.6 387.8,650.2 388.6,648.9 C389.5,647.5 389.7,646.1 389.2,644.8 C388.6,643.4 387.1,642.0 385.5,640.6 C383.9,639.2 381.5,637.9 379.8,636.5 C378.1,635.1 376.2,633.8 375.4,632.4 C374.5,631.0 374.3,629.6 374.8,628.2 C375.4,626.9 376.9,625.5 378.5,624.1 C380.1,622.8 382.5,621.4 384.2,620.0 C385.9,618.6 387.8,617.2 388.6,615.9 C389.5,614.5 389.7,613.1 389.2,611.8 C388.6,610.4 387.1,609.0 385.5,607.6 C383.9,606.2 381.5,604.9 379.8,603.5 C378.1,602.1 376.2,600.8 375.4,599.4 C374.5,598.0 374.3,596.6 374.8,595.2 C375.4,593.9 376.9,592.5 378.5,591.1 C380.1,589.8 383.3,587.7 384.2,587.0" fill="none" stroke="#C0180E" stroke-width="1.7"/><path d="M388.5,583.0 C388.7,582.3 389.7,580.2 389.2,578.9 C388.7,577.5 386.2,575.4 385.7,574.8" fill="none" stroke="#C0180E" stroke-width="1.02" opacity="0.45"/>
<path d="M483.5,690.0 C483.8,689.6 485.1,688.3 485.5,687.5 C486.0,686.7 486.3,685.8 486.1,685.0 C485.9,684.2 485.2,683.3 484.4,682.5 C483.7,681.7 482.3,680.8 481.3,680.0 C480.4,679.2 479.1,678.3 478.6,677.5 C478.0,676.7 477.7,675.8 477.9,675.0 C478.2,674.2 479.1,673.3 480.2,672.5 C481.2,671.7 483.0,670.8 484.2,670.0 C485.4,669.2 486.9,668.3 487.5,667.5 C488.1,666.7 488.2,665.8 487.9,665.0 C487.5,664.2 486.3,663.3 485.2,662.5 C484.0,661.7 482.2,660.8 481.0,660.0 C479.7,659.2 478.3,658.3 477.7,657.5 C477.1,656.7 477.0,655.8 477.3,655.0 C477.7,654.2 478.9,653.3 480.0,652.5 C481.2,651.7 483.5,650.4 484.2,650.0" fill="none" stroke="#5A64B0" stroke-width="1.2"/>
<path d="M524.9,691.0 C525.2,690.6 526.5,689.3 526.9,688.5 C527.4,687.7 527.7,686.8 527.5,686.0 C527.3,685.2 526.6,684.3 525.8,683.5 C525.1,682.7 523.7,681.8 522.7,681.0 C521.8,680.2 520.5,679.3 520.0,678.5 C519.4,677.7 519.1,676.8 519.3,676.0 C519.6,675.2 520.5,674.3 521.6,673.5 C522.6,672.7 524.4,671.8 525.6,671.0 C526.8,670.2 528.3,669.3 528.9,668.5 C529.5,667.7 529.6,666.8 529.3,666.0 C528.9,665.2 527.7,664.3 526.6,663.5 C525.4,662.7 523.6,661.8 522.4,661.0 C521.1,660.2 519.7,659.3 519.1,658.5 C518.5,657.7 518.4,656.8 518.7,656.0 C519.1,655.2 520.3,654.3 521.4,653.5 C522.6,652.7 524.9,651.4 525.6,651.0" fill="none" stroke="#A02A20" stroke-width="1.2"/>
<path d="M681.9,695.0 C682.2,694.6 683.5,693.3 683.9,692.5 C684.4,691.7 684.7,690.8 684.5,690.0 C684.3,689.2 683.6,688.3 682.8,687.5 C682.1,686.7 680.7,685.8 679.7,685.0 C678.8,684.2 677.5,683.3 677.0,682.5 C676.4,681.7 676.1,680.8 676.3,680.0 C676.6,679.2 677.5,678.3 678.6,677.5 C679.6,676.7 681.4,675.8 682.6,675.0 C683.8,674.2 685.3,673.3 685.9,672.5 C686.5,671.7 686.6,670.8 686.3,670.0 C685.9,669.2 684.7,668.3 683.6,667.5 C682.4,666.7 680.6,665.8 679.4,665.0 C678.1,664.2 676.7,663.3 676.1,662.5 C675.5,661.7 675.4,660.8 675.7,660.0 C676.1,659.2 678.0,657.9 678.4,657.5" fill="none" stroke="#5A64B0" stroke-width="1.2"/>
<path d="M734.9,694.0 C735.2,693.6 736.5,692.3 736.9,691.5 C737.4,690.7 737.7,689.8 737.5,689.0 C737.3,688.2 736.6,687.3 735.8,686.5 C735.1,685.7 733.7,684.8 732.7,684.0 C731.8,683.2 730.5,682.3 730.0,681.5 C729.4,680.7 729.1,679.8 729.3,679.0 C729.6,678.2 730.5,677.3 731.6,676.5 C732.6,675.7 734.4,674.8 735.6,674.0 C736.8,673.2 738.3,672.3 738.9,671.5 C739.5,670.7 739.6,669.8 739.3,669.0 C738.9,668.2 737.7,667.3 736.6,666.5 C735.4,665.7 733.6,664.8 732.4,664.0 C731.1,663.2 729.7,662.3 729.1,661.5 C728.5,660.7 728.4,659.8 728.7,659.0 C729.1,658.2 731.0,656.9 731.4,656.5" fill="none" stroke="#A02A20" stroke-width="1.2"/>
<path d="M776.9,692.0 C777.2,691.5 778.5,690.2 779.0,689.2 C779.4,688.3 779.7,687.4 779.5,686.5 C779.4,685.6 778.7,684.7 777.9,683.8 C777.1,682.8 775.7,681.9 774.7,681.0 C773.7,680.1 772.4,679.2 771.8,678.2 C771.2,677.3 770.9,676.4 771.2,675.5 C771.4,674.6 772.4,673.7 773.5,672.8 C774.6,671.8 776.4,670.9 777.6,670.0 C778.9,669.1 780.3,668.2 780.9,667.2 C781.5,666.3 781.6,665.4 781.3,664.5 C780.9,663.6 779.7,662.7 778.6,661.8 C777.4,660.8 775.6,659.9 774.4,659.0 C773.1,658.1 771.7,657.2 771.1,656.2 C770.5,655.3 770.4,654.4 770.7,653.5 C771.1,652.6 772.3,651.7 773.4,650.8 C774.6,649.8 776.4,648.9 777.6,648.0 C778.9,647.1 780.3,646.2 780.9,645.2 C781.5,644.3 781.2,643.0 781.3,642.5" fill="none" stroke="#5A64B0" stroke-width="1.2"/>
<path d="M829.9,689.0 C830.2,688.5 831.5,687.2 832.0,686.2 C832.4,685.3 832.7,684.4 832.5,683.5 C832.4,682.6 831.7,681.7 830.9,680.8 C830.1,679.8 828.7,678.9 827.7,678.0 C826.7,677.1 825.4,676.2 824.8,675.2 C824.2,674.3 823.9,673.4 824.2,672.5 C824.4,671.6 825.4,670.7 826.5,669.8 C827.6,668.8 829.4,667.9 830.6,667.0 C831.9,666.1 833.3,665.2 833.9,664.2 C834.5,663.3 834.6,662.4 834.3,661.5 C833.9,660.6 832.7,659.7 831.6,658.8 C830.4,657.8 828.6,656.9 827.4,656.0 C826.1,655.1 824.7,654.2 824.1,653.2 C823.5,652.3 823.4,651.4 823.7,650.5 C824.1,649.6 825.3,648.7 826.4,647.8 C827.6,646.8 829.4,645.9 830.6,645.0 C831.9,644.1 833.3,643.2 833.9,642.2 C834.5,641.3 834.6,640.4 834.3,639.5 C833.9,638.6 832.0,637.2 831.6,636.8" fill="none" stroke="#A02A20" stroke-width="1.2"/>
<path d="M146,692 C150,684 165,677 180,673 C195,669 205,666 212,664 C225,660 235,652 248,638" fill="none" stroke="#3A58C0" stroke-width="1.4" stroke-linecap="round"/><path d="M212,664 C225,660 245,648 268,632 C280,626 290,622 296,620" fill="none" stroke="#3A58C0" stroke-width="1.4" stroke-linecap="round"/>
<path d="M168,676 C172,665 178,640 181,619" fill="none" stroke="#3A58C0" stroke-width="1.0" stroke-linecap="round"/><path d="M176,673 C185,660 198,645 206,636" fill="none" stroke="#3A58C0" stroke-width="1.0" stroke-linecap="round"/><path d="M226,660 C230,640 236,615 241,602" fill="none" stroke="#3A58C0" stroke-width="1.0" stroke-linecap="round"/><path d="M234,652 C240,640 248,620 254,606" fill="none" stroke="#3A58C0" stroke-width="1.0" stroke-linecap="round"/><path d="M220,662 C232,660 245,657 254,657" fill="none" stroke="#3A58C0" stroke-width="1.0" stroke-linecap="round"/><path d="M222,665 C224,672 226,676 232,677" fill="none" stroke="#3A58C0" stroke-width="1.0" stroke-linecap="round"/>
<path d="M460,689 C456,675 452,662 450,657 C446,648 443,642 441,638 C432,630 426,626 422,624 C414,618 410,614 405.6,608.8" fill="none" stroke="#B0180E" stroke-width="1.6" stroke-linecap="round"/>
<path d="M441,638 C438,625 435,615 434,607" fill="none" stroke="#B0180E" stroke-width="1.0" stroke-linecap="round"/><path d="M439,633 C445,625 452,618 458,614" fill="none" stroke="#B0180E" stroke-width="1.0" stroke-linecap="round"/><path d="M422,633 C410,633 400,633 396,633 C393,631 391,628 390.6,625.7" fill="none" stroke="#B0180E" stroke-width="1.0" stroke-linecap="round"/><path d="M454,678 C445,675 435,672 428,672.6 C418,675 405,682 396,686" fill="none" stroke="#B0180E" stroke-width="1.0" stroke-linecap="round"/><path d="M447,674 C435,670 420,664 405.6,659.4" fill="none" stroke="#B0180E" stroke-width="1.0" stroke-linecap="round"/>
<path d="M565,694 C575,690 582,686 586,685 C595,680 600,676 604,672 C606,666 607,660 608,659 C611,653 613,649 614,648 C617,640 619,633 621,626" fill="none" stroke="#3E4EA8" stroke-width="1.3" stroke-linecap="round"/>
<path d="M544,693 C550,685 555,678 557,677 C559,668 560,660 560.4,656 C562,650 564,645 565.2,640" fill="none" stroke="#3E4EA8" stroke-width="0.9" stroke-linecap="round"/><path d="M554,683 C564,672 575,663 584,656" fill="none" stroke="#3E4EA8" stroke-width="0.9" stroke-linecap="round"/><path d="M604,672 C612,668 620,664 626,662 C640,659 650,657 660,656" fill="none" stroke="#3E4EA8" stroke-width="0.9" stroke-linecap="round"/><path d="M607,659 C613,656 618,653 624,651" fill="none" stroke="#3E4EA8" stroke-width="0.9" stroke-linecap="round"/><path d="M613,648 C620,644 626,640 632,637" fill="none" stroke="#3E4EA8" stroke-width="0.9" stroke-linecap="round"/><path d="M586,685 C592,684 598,683 604,683 C612,682 620,682 629,681.6" fill="none" stroke="#3E4EA8" stroke-width="0.9" stroke-linecap="round"/><path d="M597,686 C599,689 601,692 602,696" fill="none" stroke="#3E4EA8" stroke-width="0.9" stroke-linecap="round"/>
<path d="M931.5,689 C929,682 926,674 924.5,667 C922,660 919,654 917.6,649.7 C912,645 904,641 898.4,639.2 C892,632 886,624 881,616.6" fill="none" stroke="#A8180E" stroke-width="1.6" stroke-linecap="round"/>
<path d="M898,639 C890,641 884,643 877.5,642.7 C868,643 858,643 848,643" fill="none" stroke="#A8180E" stroke-width="1.0" stroke-linecap="round"/><path d="M886,643 C881,639 876,635 872,632" fill="none" stroke="#A8180E" stroke-width="1.0" stroke-linecap="round"/><path d="M914,643 C912,635 909,622 907,615" fill="none" stroke="#A8180E" stroke-width="1.0" stroke-linecap="round"/><path d="M914,637.5 C920,632 925,627 930,622" fill="none" stroke="#A8180E" stroke-width="1.0" stroke-linecap="round"/><path d="M926,681 C918,673 910,667 903.6,665.4 C896,664 888,664 881,663.6" fill="none" stroke="#A8180E" stroke-width="1.0" stroke-linecap="round"/><path d="M924.5,677.6 C918,676 912,675 907,675.8 C895,678 880,683 867,686.3" fill="none" stroke="#A8180E" stroke-width="1.0" stroke-linecap="round"/>
<line x1="389.5" y1="424" x2="389.5" y2="746" stroke="#111" stroke-width="1.4"/>
<line x1="663" y1="603" x2="663" y2="746" stroke="#5A4A44" stroke-width="1.8"/>
<path d="M41,698.8 L300,698 C420,698 520,702 580,705 C640,708 700,706.5 800,702 L958,698.8" fill="none" stroke="#2C62DC" stroke-width="7.8" stroke-linecap="round"/>
<path d="M41,691.5 L300,690.8 C420,690.8 520,694.5 580,697.5 C640,700.5 700,699 800,695 L958,691.8" fill="none" stroke="#DE0A0C" stroke-width="6.8" stroke-linecap="round"/>
<path d="M57,698.6 L300,697.8 C420,697.8 520,701.8 580,704.8 C640,707.8 700,706.3 800,701.8 L946,698.6" fill="none" stroke="#4A86F0" stroke-width="1.6"/>
<rect x="31.8" y="497.3" width="25.2" height="246.7" fill="#FB666A" fill-opacity="0.82"/>
<rect x="945.4" y="497.3" width="25.8" height="246.7" fill="#FB666C" fill-opacity="0.82"/>
<g font-family="Liberation Sans" font-weight="bold" font-size="27" fill="#FFF4EE" stroke="#FFF4EE" stroke-width="1.1">
  <text transform="translate(54,691) rotate(-90)" textLength="114.5" lengthAdjust="spacingAndGlyphs">Ovulation</text>
  <text transform="translate(968,691) rotate(-90)" textLength="114.5" lengthAdjust="spacingAndGlyphs">Ovulation</text>
</g>
<g font-family="Liberation Sans" font-size="29" fill="#D8161A" stroke="#D8161A" stroke-width="0.5">
  <text x="97.5" y="737.6" textLength="214.5" lengthAdjust="spacingAndGlyphs">PROGESTERONE</text>
  <text x="730" y="737.9" textLength="142" lengthAdjust="spacingAndGlyphs">ESTROGEN</text>
</g>
<text x="409" y="739" font-family="Liberation Sans" font-weight="bold" font-size="28" fill="#FFF6F0" stroke="#FFF6F0" stroke-width="0.5" textLength="225" lengthAdjust="spacingAndGlyphs">Endometrial layer</text>
<!-- labels -->
<g font-family="Liberation Sans" font-size="20" fill="#111">
  <text x="150.2" y="215.7" textLength="129" lengthAdjust="spacingAndGlyphs">Endometrium</text>
  <text x="45.9" y="347.5" textLength="85.6" lengthAdjust="spacingAndGlyphs">Ovulation</text>
  <text x="434" y="262" textLength="68" lengthAdjust="spacingAndGlyphs">Corpus</text>
  <text x="434" y="280.5" textLength="68" lengthAdjust="spacingAndGlyphs">luteum</text>
  <text x="549.6" y="291.2" textLength="94" lengthAdjust="spacingAndGlyphs">Menstrual</text>
  <text x="549.6" y="309.5">flow</text>
  <text x="755.6" y="195.5" textLength="82.4" lengthAdjust="spacingAndGlyphs">Fallopian</text>
  <text x="755.6" y="217">tube</text>
  <text x="894.6" y="317" textLength="71.6" lengthAdjust="spacingAndGlyphs">Egg cell</text>
  <text x="676.8" y="406.7" textLength="55" lengthAdjust="spacingAndGlyphs">Ovary</text>
</g>
<g font-family="Liberation Sans" font-weight="bold" font-size="17.4" fill="#111">
  <text x="284" y="342.3" textLength="56" lengthAdjust="spacingAndGlyphs">Cervix</text>
  <text x="286.5" y="392.3" textLength="59.5" lengthAdjust="spacingAndGlyphs">Vagina</text>
</g>
<g stroke="#111" stroke-width="1.2" fill="none">
  <line x1="210.7" y1="226.4" x2="206.8" y2="269.3"/>
  <line x1="87.7" y1="252.4" x2="98" y2="320"/>
  <line x1="433.8" y1="292.4" x2="405.2" y2="370.4"/>
  <line x1="548.7" y1="321" x2="523.5" y2="396.4"/>
  <line x1="631.4" y1="388.6" x2="666" y2="397"/>
  <line x1="702.7" y1="193.8" x2="742.8" y2="193.8"/>
  <line x1="928" y1="254" x2="932.7" y2="300"/>
</g>
<g stroke="#CFCFCF" stroke-width="1.1" fill="none">
  <path d="M262,316 L271,316.5"/><path d="M260,359 L271,357"/><path d="M260,361 L271,362"/><path d="M262,410 L271,409"/>
  <path d="M272,338 L277,338"/><path d="M272,385.5 L277,385.5"/>
</g>
<g stroke="#3A3A3A" stroke-width="1.1" fill="none">
  <path d="M272.3,317 L272.3,357.5"/><path d="M272.3,362 L272.3,409.5"/>
</g>
</svg>
</body></html>
